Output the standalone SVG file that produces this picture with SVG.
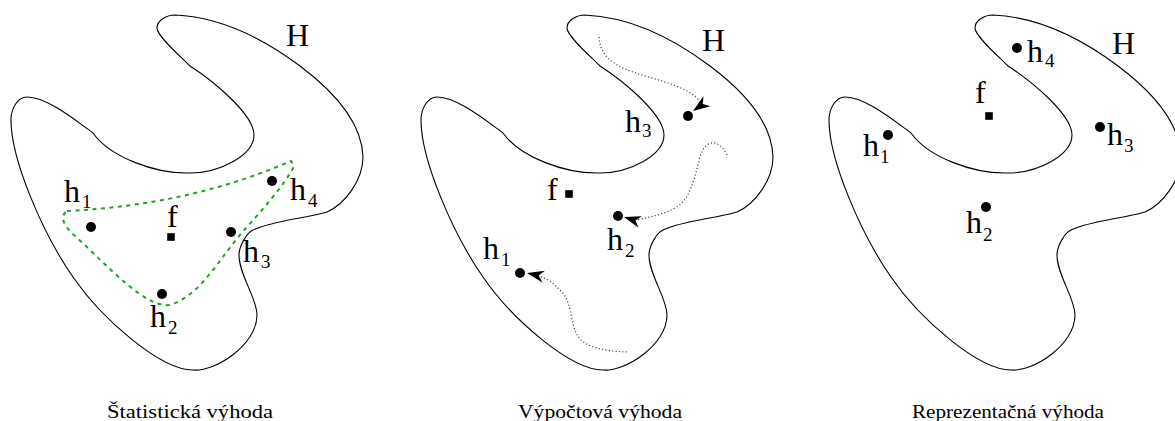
<svg xmlns="http://www.w3.org/2000/svg" xmlns:xlink="http://www.w3.org/1999/xlink" width="1175" height="421" viewBox="0 0 1175 421">
<style>
.blob{fill:none;stroke:#000;stroke-width:1.1}
.lbl{font-family:"Liberation Serif",serif;font-size:32px;fill:#000}
.sub{font-size:19px}
.cap{font-family:"Liberation Serif",serif;font-size:19px;fill:#000;text-anchor:middle}
.dot{fill:#000}
.sq{fill:#000}
.hull{fill:none;stroke:#22a022;stroke-width:2;stroke-dasharray:4 4.5}
.trail{fill:none;stroke:#444;stroke-width:1.2;stroke-dasharray:1.2 2.2}
.head{fill:#000}
</style>
<defs>
<path id="blob" d="M157,28 C157,20 167,15 175,15 C220,17 264,39 300,66 C332,90 362,122 363,157 C363,180 345,204 327,212 C303,219 275,220 253,230 C246,233 239,247 239,255 C239,275 257,298 257,315 C257,345 215,372 193,370 C160,370 101,318 73,277 C43,234 11,160 11,120 C11,108 18,97 27,97 C47,97 75,120 93,133 C110,157 155,174 190,173 C220,173 254,155 254,135 C254,115 215,82 190,66 C180,56 157,36 157,28 Z"/>
<path id="ah" d="M0,0 L-17,-6 L-12,0 L-17,6 Z"/>
</defs>

<!-- Panel 1: statistical -->
<g id="p1-H">
<use xlink:href="#blob" href="#blob" class="blob"/>
<text class="lbl" x="286" y="46">H</text>
</g>
<g id="p1-f">
<rect class="sq" x="167.2" y="233.2" width="7.6" height="7.6"/>
<text class="lbl" x="167" y="227">f</text>
</g>
<g id="p1-h1">
<circle class="dot" cx="91" cy="227" r="5"/>
<text class="lbl" x="64" y="202">h<tspan class="sub" dx="2" dy="6">1</tspan></text>
</g>
<g id="p1-h2">
<circle class="dot" cx="162" cy="294" r="5"/>
<text class="lbl" x="150" y="327">h<tspan class="sub" dx="2" dy="7">2</tspan></text>
</g>
<g id="p1-h3">
<circle class="dot" cx="231" cy="232" r="5"/>
<text class="lbl" x="243" y="262">h<tspan class="sub" dx="2" dy="6">3</tspan></text>
</g>
<g id="p1-h4">
<circle class="dot" cx="272" cy="181" r="5"/>
<text class="lbl" x="290" y="200">h<tspan class="sub" dx="2" dy="7">4</tspan></text>
</g>
<g id="p1-connectors">
<path class="hull" d="M67,211 Q190,205 291,161 L294,166 C285,185 260,212 240,235 C215,265 200,295 170,305 C145,308 110,268 75,236 C62,224 60,216 67,211 Z"/>
</g>
<text class="cap" x="190" y="418" textLength="166" lengthAdjust="spacingAndGlyphs">Štatistická výhoda</text>

<!-- Panel 2: computational -->
<g id="p2-H">
<use xlink:href="#blob" href="#blob" class="blob" transform="translate(410,0)"/>
<text class="lbl" x="702" y="51">H</text>
</g>
<g id="p2-f">
<rect class="sq" x="565.2" y="190.2" width="7.6" height="7.6"/>
<text class="lbl" x="547" y="200">f</text>
</g>
<g id="p2-h1">
<circle class="dot" cx="520" cy="273" r="5"/>
<text class="lbl" x="483" y="259">h<tspan class="sub" dx="2" dy="7">1</tspan></text>
</g>
<g id="p2-h2">
<circle class="dot" cx="618" cy="216" r="5"/>
<text class="lbl" x="607" y="250">h<tspan class="sub" dx="2" dy="7">2</tspan></text>
</g>
<g id="p2-h3">
<circle class="dot" cx="688" cy="116" r="5"/>
<text class="lbl" x="625" y="132">h<tspan class="sub" dx="1" dy="5">3</tspan></text>
</g>
<g id="p2-connectors">
<path class="trail" d="M599,37 C600,55 612,64 630,71 C655,80 690,86 701,103"/>
<use xlink:href="#ah" href="#ah" class="head" transform="translate(693,111) rotate(145)"/>
<path class="trail" d="M727,155 C720,140 706,137 700,157 C694,180 690,200 675,208 C662,215 650,217 636,220"/>
<use xlink:href="#ah" href="#ah" class="head" transform="translate(624,217) rotate(197)"/>
<path class="trail" d="M627,352 C605,351 585,348 577,335 C570,322 572,300 560,290 C554,284 548,279 539,276"/>
<use xlink:href="#ah" href="#ah" class="head" transform="translate(527,273) rotate(192)"/>
</g>
<text class="cap" x="600" y="418" textLength="164" lengthAdjust="spacingAndGlyphs">Výpočtová výhoda</text>

<!-- Panel 3: representational -->
<g id="p3-H">
<use xlink:href="#blob" href="#blob" class="blob" transform="translate(818,0)"/>
<text class="lbl" x="1112" y="54">H</text>
</g>
<g id="p3-f">
<rect class="sq" x="985.2" y="112.2" width="7.6" height="7.6"/>
<text class="lbl" x="975" y="103">f</text>
</g>
<g id="p3-h1">
<circle class="dot" cx="888" cy="135" r="5"/>
<text class="lbl" x="863" y="156">h<tspan class="sub" dx="1" dy="7">1</tspan></text>
</g>
<g id="p3-h2">
<circle class="dot" cx="986" cy="207" r="5"/>
<text class="lbl" x="966" y="233">h<tspan class="sub" dx="1" dy="8">2</tspan></text>
</g>
<g id="p3-h3">
<circle class="dot" cx="1100" cy="127" r="5"/>
<text class="lbl" x="1107" y="145">h<tspan class="sub" dx="1" dy="7">3</tspan></text>
</g>
<g id="p3-h4">
<circle class="dot" cx="1017" cy="48" r="5"/>
<text class="lbl" x="1027" y="62">h<tspan class="sub" dx="2" dy="5">4</tspan></text>
</g>
<text class="cap" x="1008" y="418" textLength="192" lengthAdjust="spacingAndGlyphs">Reprezentačná výhoda</text>
</svg>
